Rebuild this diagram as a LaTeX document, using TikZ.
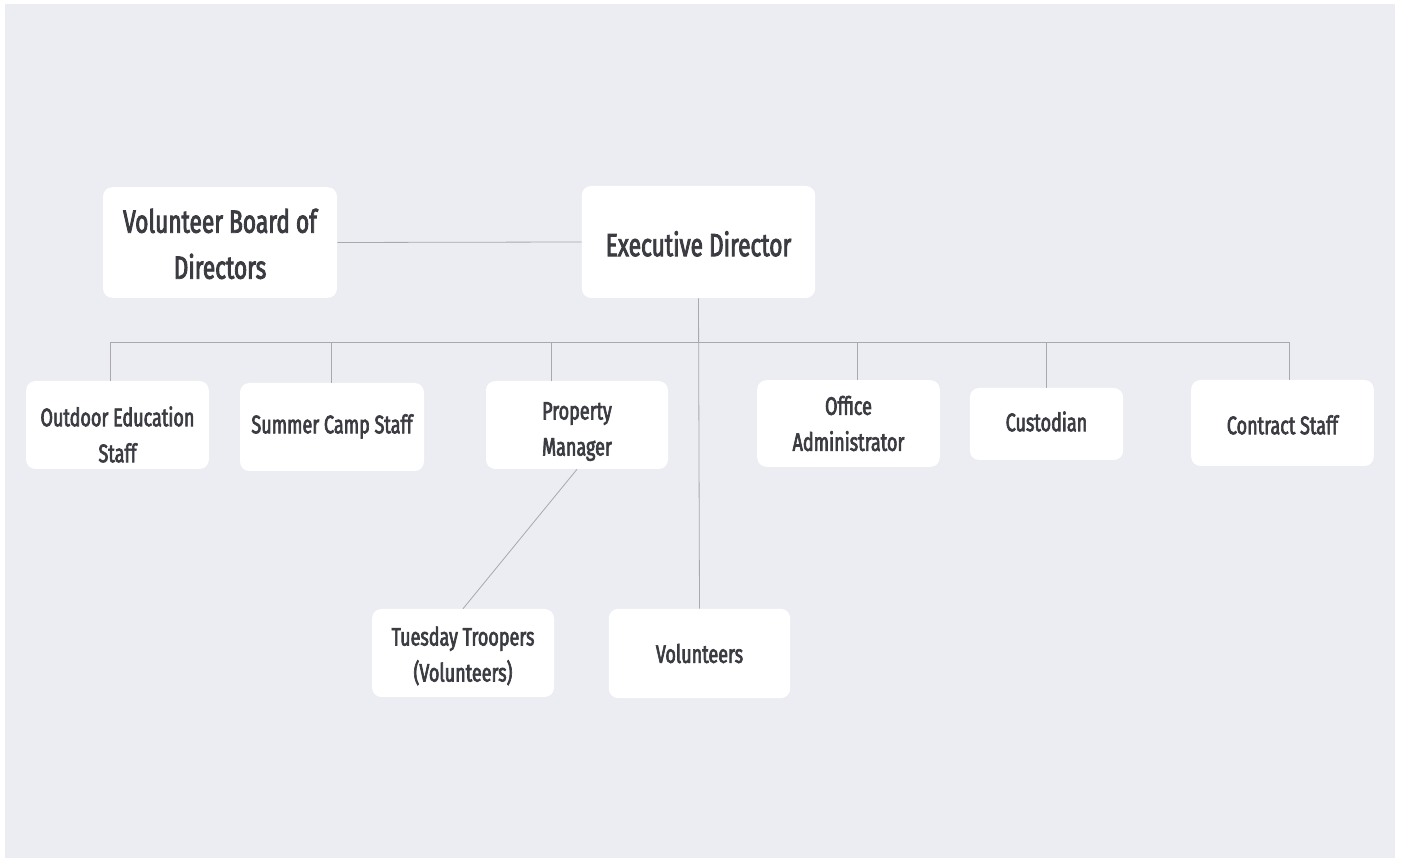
\documentclass[tikz,border=0pt]{standalone}
\usepackage{fontspec}
\setmainfont{Fira Sans}[FakeStretch=0.71,FakeBold=2.6]
\definecolor{pagegray}{RGB}{235,237,242}
\definecolor{linegray}{RGB}{168,168,174}
\definecolor{textgray}{RGB}{58,60,66}
% lower (or raise) the text of a card without moving the card
\newcommand{\carddrop}[2]{\raisebox{-#1}[\height][\depth]{\begin{tabular}{@{}c@{}}#2\end{tabular}}}

\begin{document}
\begin{tikzpicture}[x=0.75pt,y=0.75pt,yscale=-1,xscale=1,
  card/.style={fill=white, rounded corners=7pt, align=center, text=textgray, inner sep=0pt},
  bigcard/.style={card, font=\fontsize{24}{34.5}\selectfont},
  smallcard/.style={card, font=\fontsize{19}{27}\selectfont},
  link/.style={draw=linegray, line width=0.6pt}]
%set diagram size: 1404 x 862
\useasboundingbox (0,0) rectangle (1404,862);

%Shape: Rectangle [background]
\fill [pagegray] (5,4) rectangle (1395,858);

% Top row
\node [bigcard, minimum width=175.5pt, minimum height=83pt] (board) at (220,242.5) {\carddrop{3pt}{Volunteer Board of\\Directors}};
\node [bigcard, minimum width=175pt, minimum height=84pt] (exec) at (698.5,242) {\carddrop{3.7pt}{Executive Director}};

% Staff row
\node [smallcard, minimum width=137pt, minimum height=66pt] (outdoor) at (117.5,425) {\carddrop{9pt}{Outdoor Education\\Staff}};
\node [smallcard, minimum width=138pt, minimum height=66pt] (summer) at (332,427) {\carddrop{-0.7pt}{Summer Camp Staff}};
\node [smallcard, minimum width=136.5pt, minimum height=66pt] (property) at (577,425) {\carddrop{4pt}{Property\\Manager}};
\node [smallcard, minimum width=137pt, minimum height=65pt] (office) at (848.5,423.5) {Office\\Administrator};
\node [smallcard, minimum width=115pt, minimum height=54pt] (custodian) at (1046.5,424) {\carddrop{0pt}{Custodian}};
\node [smallcard, minimum width=137pt, minimum height=64.5pt] (contract) at (1282.5,423) {\carddrop{3pt}{Contract Staff}};

% Volunteers row
\node [smallcard, minimum width=136.5pt, minimum height=66pt] (tuesday) at (463,653) {\carddrop{2.5pt}{Tuesday Troopers\\(Volunteers)}};
\node [smallcard, minimum width=136pt, minimum height=67pt] (volunteers) at (699.5,653.5) {Volunteers};

% Connectors
\coordinate (busL) at (110,342);
\coordinate (busR) at (1289,342);
\draw [link] (board.east) -- (exec.west);
\draw [link] (exec.south) -- (volunteers.north);
\draw [link] (busL) -- (busR);
\foreach \n/\dx in {outdoor/-7.5,summer/-1,property/-26,office/8.5,custodian/-0.5,contract/6.5}
  \draw [link] ([xshift=\dx*0.75pt]\n.north) -- ([xshift=\dx*0.75pt]\n.north |- busL);
\draw [link] (property.south) -- (tuesday.north);

\end{tikzpicture}
\end{document}
